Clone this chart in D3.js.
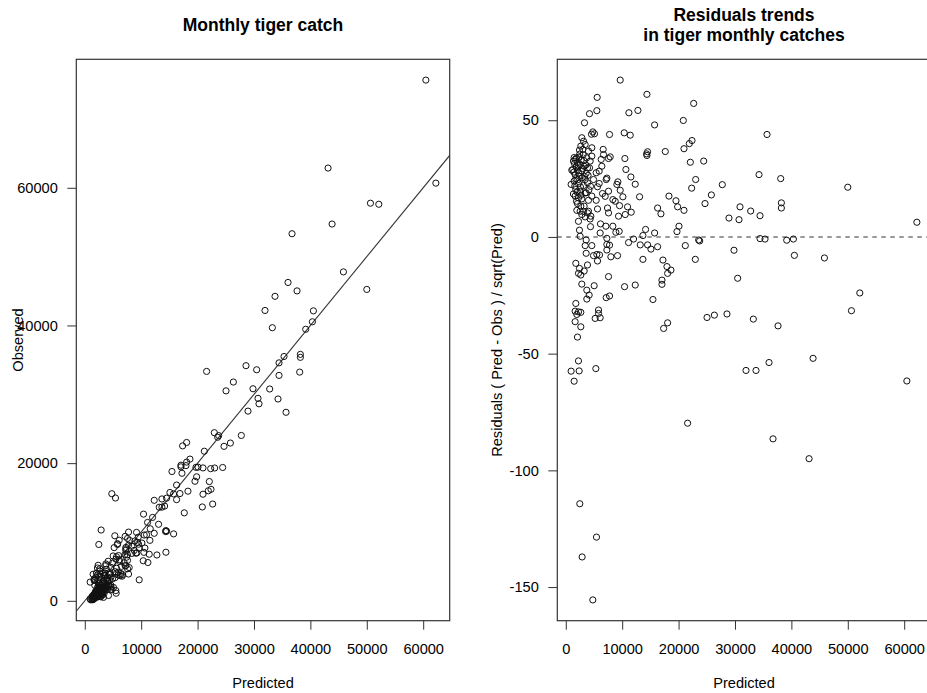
<!DOCTYPE html>
<html>
<head>
<meta charset="utf-8">
<script src="https://cdn.jsdelivr.net/npm/d3@7"></script>
<style>
  body { margin: 0; background: #fff; }
  svg { display: block; font-family: "Liberation Sans", Arial, Helvetica, sans-serif; }
</style>
</head>
<body>
<svg width="927" height="693"></svg>
<script>
// model predictions (kg) and standardised residuals (Pred - Obs) / sqrt(Pred)
const predicted = [
  9650, 5565, 14386, 22674, 4204, 5506, 11189, 12788, 3316, 15748, 20839, 4796, 4559, 5092, 7756, 10360,
  11426, 22378, 21904, 20957, 17642, 14504, 14386, 14327, 22082, 24450, 6631, 10479, 10656, 11544, 12314, 13084,
  23029, 22319, 25812, 24687, 18293, 19536, 19832, 20957, 16280, 16872, 20070, 19714, 14149, 15748, 9472, 8880,
  8348, 7105, 6157, 6098, 4381, 2428, 2546, 2250,
  6690, 6276, 7578, 7874, 6394, 5920, 7282, 7164, 9236, 9058, 9650, 5920, 5624, 7578, 6512, 6986,
  8348, 8762, 10124, 9532, 10952, 7400, 7578, 5624, 9354, 10538, 11603, 4440, 4026, 5388, 4618, 4381,
  4914, 5388, 4204, 4322, 4618, 4026, 4618, 3434, 3612, 3257, 2842,
  2842, 3138, 2664, 3434, 3020, 2428, 1658, 1362, 2072, 2546, 3257, 1836, 3848, 1244, 2072, 2842,
  3612, 1658, 2428, 950, 1480, 2250, 3138, 3848, 1776, 2546, 3434, 1658, 2250, 2842, 4026, 2072,
  2664, 3138, 3848, 2546, 3434, 4322, 1954, 1066, 1480,
  1540, 1900, 2190, 2370, 2730, 2960, 3200, 1430, 1780, 2310, 2900, 3550, 1600, 2020, 2600, 3300,
  3950, 1350, 2130, 2480, 3080, 3700, 4100, 1900, 2700,
  3612, 7282, 3434, 4618, 7282, 7756, 7282, 11130, 12018, 13676, 13202, 14504, 15096, 16280, 21194, 23562,
  23740, 3612, 4914, 5506, 5980, 5624, 7992, 9176, 13676, 17228, 22970, 1776, 3848, 2428, 3257, 2250,
  2664, 2842, 17938, 18648, 18056, 7578, 5032, 3730, 4144, 3730, 10420, 12314, 17050, 17050, 7164, 7756,
  15452, 1776, 1658, 2250, 2664, 1954, 1658, 2664, 5802, 5802, 5210, 6098, 2072, 25042, 26344, 18056,
  17346, 2250, 948, 2368, 5328, 1480,
  29823, 30474, 28580, 34438, 35325, 33255, 37633, 39172, 40355, 40533, 45858, 52130, 50650, 43846, 36036, 31953,
  33728, 60473, 21600, 36746, 43135,
  2486, 5445, 2900, 4793,
  27752, 28936, 30711, 30888, 32782, 34438, 34260, 38106, 38224, 38224, 35680, 49999, 62248
];
const residual = [
  67.2, 59.8, 61.1, 57.2, 52.8, 54.1, 53.2, 54.2, 48.9, 48.0, 49.9, 45.0, 44.0, 44.2, 43.9, 44.6,
  43.6, 41.3, 40.0, 37.8, 36.6, 36.5, 34.9, 35.6, 32.0, 32.5, 37.5, 33.6, 28.9, 25.7, 22.6, 17.2,
  24.6, 20.9, 18.0, 14.3, 17.5, 15.5, 12.9, 11.4, 12.4, 9.9, 4.6, 2.3, 3.2, 1.7, 2.4, 2.0,
  4.6, 4.6, 5.6, 1.7, 4.4, 2.9, 0.3, 6.7,
  35.3, 33.2, 33.6, 34.3, 30.3, 28.2, 25.2, 24.6, 23.6, 22.5, 20.0, 22.9, 21.5, 19.6, 18.6, 17.4,
  16.0, 15.3, 17.2, 13.4, 12.9, 12.4, 10.3, 12.0, 8.9, 9.6, 10.6, 8.9, 11.0, 15.7, 17.5, 21.7,
  24.6, 27.5, 29.6, 32.5, 34.6, 36.8, 38.2, 24.6, 18.9, 13.2, 9.6,
  42.5, 41.0, 38.9, 39.6, 37.5, 37.2, 33.2, 32.5, 31.8, 31.0, 30.3, 30.0, 29.6, 28.9, 28.6, 28.2,
  27.2, 26.7, 26.0, 22.5, 23.9, 22.9, 22.0, 23.2, 20.3, 19.6, 18.9, 17.5, 16.7, 16.3, 15.7, 14.3,
  13.2, 11.0, 10.3, 11.0, 8.6, 7.7, 11.4, 28.6, 34.0,
  31.5, 33.8, 30.5, 34.2, 33.0, 29.4, 32.7, 27.8, 24.9, 27.4, 25.3, 30.8, 21.8, 19.2, 21.4, 26.0,
  26.4, 18.4, 24.5, 35.5, 35.2, 33.9, 20.2, 15.3, 17.9,
  -1.3, -0.6, -3.7, -3.7, -3.2, -3.5, -5.6, -2.4, -0.9, 0.6, -3.4, -3.4, -5.2, -4.2, -3.7, -1.3,
  -1.7, -7.0, -8.0, -7.5, -7.7, -10.3, -8.5, -8.0, -9.6, -9.9, -9.6, -11.3, -12.0, -13.5, -14.6, -15.6,
  -16.3, -20.2, -12.7, -14.2, -15.6, -17.0, -20.9, -22.8, -24.9, -26.6, -21.3, -20.6, -18.5, -20.3, -26.0, -25.3,
  -26.8, -28.5, -31.8, -32.1, -32.3, -33.2, -36.3, -38.5, -31.3, -32.8, -34.9, -34.6, -42.9, -34.5, -33.5, -36.8,
  -39.2, -53.1, -57.5, -57.4, -56.4, -61.8,
  -5.7, -17.7, -33.0, -0.7, -0.9, -35.2, -38.1, -1.4, -0.9, -7.9, -9.0, -24.0, -31.6, -52.0, -53.8, -57.2,
  -57.2, -61.7, -79.8, -86.5, -95.0,
  -114.3, -128.6, -137.1, -155.5,
  22.4, 8.1, 7.4, 12.9, 11.1, 9.1, 26.7, 25.0, 14.6, 12.4, 43.9, 21.3, 6.3
];

const xTicks = [0, 10000, 20000, 30000, 40000, 50000, 60000];
const obsTicks = [0, 20000, 40000, 60000];
const residTicks = [-150, -100, -50, 0, 50];
const fitLine = { intercept: 0, slope: 1 };

// observed catch recovered from the residual definition on the right-hand y label
const points = predicted.map((p, i) => ({
  pred: p,
  res: residual[i],
  obs: p - residual[i] * Math.sqrt(p)
}));

const svg = d3.select("svg");
const fontSize = 14.6;
const titleSize = 17.5;
const tickLen = 9;
const plain = d => String(d);   // R prints a plain hyphen for negatives

// R-style axis range: data extent plus 4% each side
function rRange(ext) {
  const pad = (ext[1] - ext[0]) * 0.04;
  return [ext[0] - pad, ext[1] + pad];
}

const xDomain = rRange(d3.extent(points, d => d.pred));

function drawPanel(box, yDomain, yTicks, yKey, opts) {
  const g = svg.append("g");
  const x = d3.scaleLinear().domain(xDomain).range([box.x0, box.x1]);
  const y = d3.scaleLinear().domain(yDomain).range([box.y1, box.y0]);

  const clipId = "clip" + opts.id;
  svg.append("clipPath").attr("id", clipId)
    .append("rect")
    .attr("x", box.x0).attr("y", box.y0)
    .attr("width", box.x1 - box.x0).attr("height", box.y1 - box.y0);

  // x axis
  g.append("g")
    .attr("transform", `translate(0,${box.y1})`)
    .call(d3.axisBottom(x).tickValues(xTicks).tickSize(tickLen).tickPadding(14).tickFormat(plain))
    .call(a => a.select(".domain").remove())
    .call(a => a.selectAll("text").attr("font-size", fontSize).attr("fill", "#000").attr("font-family", null))
    .call(a => a.selectAll("line").attr("stroke", "#333"));

  // y axis
  g.append("g")
    .attr("transform", `translate(${box.x0},0)`)
    .call(d3.axisLeft(y).tickValues(yTicks).tickSize(tickLen).tickPadding(9.5).tickFormat(plain))
    .call(a => a.select(".domain").remove())
    .call(a => a.selectAll("text").attr("font-size", fontSize).attr("fill", "#000").attr("font-family", null))
    .call(a => a.selectAll("line").attr("stroke", "#333"));

  // reference line
  if (opts.abline) {
    const xs = x.domain();
    g.append("line")
      .attr("clip-path", `url(#${clipId})`)
      .attr("x1", x(xs[0])).attr("y1", y(opts.abline.intercept + opts.abline.slope * xs[0]))
      .attr("x2", x(xs[1])).attr("y2", y(opts.abline.intercept + opts.abline.slope * xs[1]))
      .attr("stroke", "#333").attr("stroke-width", 1.1);
  }
  if (opts.hline !== undefined) {
    g.append("line")
      .attr("x1", box.x0).attr("x2", box.x1)
      .attr("y1", y(opts.hline)).attr("y2", y(opts.hline))
      .attr("stroke", "#333").attr("stroke-width", 1.1)
      .attr("stroke-dasharray", "4.5,4.5");
  }

  // points
  g.append("g")
    .selectAll("circle")
    .data(points)
    .join("circle")
    .attr("cx", d => x(d.pred))
    .attr("cy", d => y(d[yKey]))
    .attr("r", 3.1)
    .attr("fill", "none")
    .attr("stroke", "#111")
    .attr("stroke-width", 1);

  // box
  g.append("rect")
    .attr("x", box.x0).attr("y", box.y0)
    .attr("width", box.x1 - box.x0).attr("height", box.y1 - box.y0)
    .attr("fill", "none").attr("stroke", "#333").attr("stroke-width", 1.2);

  const cx = (box.x0 + box.x1) / 2;
  const cy = (box.y0 + box.y1) / 2;

  // titles
  const t = g.append("text")
    .attr("text-anchor", "middle")
    .attr("font-size", titleSize)
    .attr("font-weight", "bold")
    .attr("fill", "#000");
  opts.title.forEach((line, i) => {
    t.append("tspan").attr("x", cx).attr("y", opts.titleY[i]).text(line);
  });

  g.append("text")
    .attr("x", cx).attr("y", 688)
    .attr("text-anchor", "middle")
    .attr("font-size", fontSize)
    .attr("fill", "#000")
    .text("Predicted");

  g.append("text")
    .attr("transform", `translate(${opts.yLabelX},${cy}) rotate(-90)`)
    .attr("text-anchor", "middle")
    .attr("font-size", fontSize)
    .attr("fill", "#000")
    .text(opts.yLabel);
}

drawPanel(
  { x0: 76.3, x1: 449.7, y0: 59.3, y1: 620.7 },
  rRange(d3.extent(points, d => d.obs)),
  obsTicks, "obs",
  { id: "L", abline: fitLine, title: ["Monthly tiger catch"], titleY: [31], yLabel: "Observed", yLabelX: 23 }
);

drawPanel(
  { x0: 557.3, x1: 930.7, y0: 59.3, y1: 620.7 },
  rRange(d3.extent(points, d => d.res)),
  residTicks, "res",
  { id: "R", hline: 0, title: ["Residuals trends", "in tiger monthly catches"], titleY: [20.5, 40.5],
    yLabel: "Residuals ( Pred - Obs ) / sqrt(Pred)", yLabelX: 502 }
);
</script>
</body>
</html>
